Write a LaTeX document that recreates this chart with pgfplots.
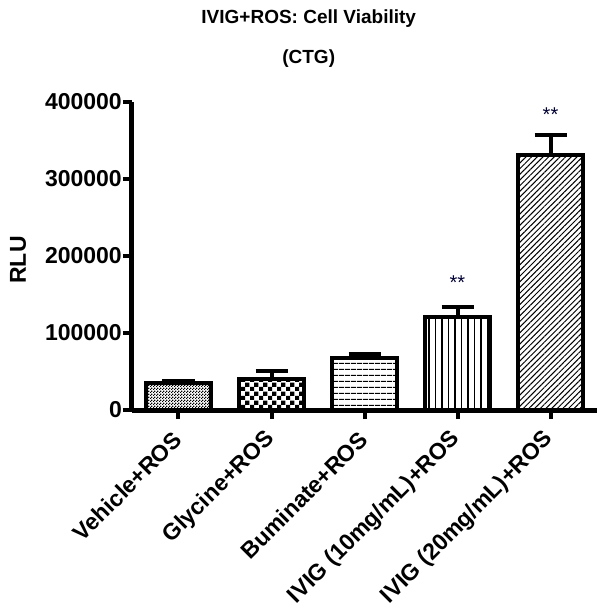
\documentclass[border=0pt]{standalone}
\usepackage{fontspec}
\setmainfont{Liberation Sans}
\usepackage{pgfplots}
\pgfplotsset{compat=1.18}
\usetikzlibrary{patterns,patterns.meta}

\pgfdeclarepatternformonly{finecheck}{\pgfpointorigin}{\pgfpoint{3bp}{3bp}}{\pgfpoint{3bp}{3bp}}{%
  \pgfpathrectangle{\pgfpointorigin}{\pgfpoint{1.5bp}{1.5bp}}%
  \pgfpathrectangle{\pgfpoint{1.5bp}{1.5bp}}{\pgfpoint{1.5bp}{1.5bp}}%
  \pgfusepath{fill}}
\pgfdeclarepatternformonly{bigcheck}{\pgfpointorigin}{\pgfpoint{8.6bp}{8.6bp}}{\pgfpoint{8.6bp}{8.6bp}}{%
  \pgfpathrectangle{\pgfpointorigin}{\pgfpoint{4.3bp}{4.3bp}}%
  \pgfpathrectangle{\pgfpoint{4.3bp}{4.3bp}}{\pgfpoint{4.3bp}{4.3bp}}%
  \pgfusepath{fill}}

\pgfplotsset{myerr/.style={error bars/.cd, y dir=plus, y explicit,
  error bar style={line width=4bp, black},
  error mark options={line width=4bp, mark size=16bp, black, rotate=90}}}

\begin{document}
\begin{tikzpicture}
\begin{axis}[
  scale only axis,
  width=465bp, height=308bp,
  xmin=-0.5, xmax=4.5,
  ymin=0, ymax=400000,
  axis x line=bottom, axis y line=left,
  axis line style={line width=5bp, -},
  tick align=outside,
  major tick length=9bp,
  every tick/.style={line width=4bp, black},
  xtick={0,1,2,3,4},
  xticklabels={Vehicle+ROS, Glycine+ROS, Buminate+ROS, IVIG (10mg/mL)+ROS, IVIG (20mg/mL)+ROS},
  xticklabel style={rotate=45, anchor=east, font=\fontsize{23bp}{27bp}\selectfont\bfseries, inner sep=1bp},
  xticklabel shift=16bp,
  ytick={0,100000,200000,300000,400000},
  yticklabels={0,100000,200000,300000,400000},
  scaled y ticks=false,
  yticklabel style={font=\fontsize{23bp}{27bp}\selectfont\bfseries, inner sep=1bp},
  ybar, bar width=0.7, bar shift=0pt,
  every axis plot/.append style={draw=black, line width=4bp},
]
\coordinate (O) at (rel axis cs:0,0);
\coordinate (T) at (rel axis cs:0.38,1);
\addplot[pattern=finecheck, myerr] coordinates {(0,35500) +- (0,2500)};
\addplot[pattern=bigcheck, myerr] coordinates {(1,39800) +- (0,11000)};
\addplot[pattern={Lines[angle=0,distance=6bp,line width=1.4bp]}, myerr] coordinates {(2,67900) +- (0,4700)};
\addplot[pattern={Lines[angle=90,distance=6.5bp,line width=1.2bp]}, myerr] coordinates {(3,120500) +- (0,13500)};
\addplot[pattern={Lines[angle=45,distance=4bp,line width=1bp]}, myerr] coordinates {(4,331500) +- (0,25000)};
\node[font=\fontsize{20bp}{24bp}\selectfont, text=black!80!blue] at (axis cs:3,165000) {**};
\node[font=\fontsize{20bp}{24bp}\selectfont, text=black!80!blue] at (axis cs:4,383000) {**};
\end{axis}
\node[anchor=base, font=\fontsize{19bp}{23bp}\selectfont\bfseries] at ([yshift=79bp]T) {IVIG+ROS: Cell Viability};
\node[anchor=base, font=\fontsize{19bp}{23bp}\selectfont\bfseries] at ([yshift=39bp]T) {(CTG)};
\node[rotate=90, font=\fontsize{23bp}{27bp}\selectfont\bfseries] at ([xshift=-114bp,yshift=150bp]O) {RLU};
\pgfresetboundingbox
\path ([xshift=-132bp,yshift=-205bp]O) rectangle ([xshift=472bp,yshift=410bp]O);
\end{tikzpicture}
\end{document}
